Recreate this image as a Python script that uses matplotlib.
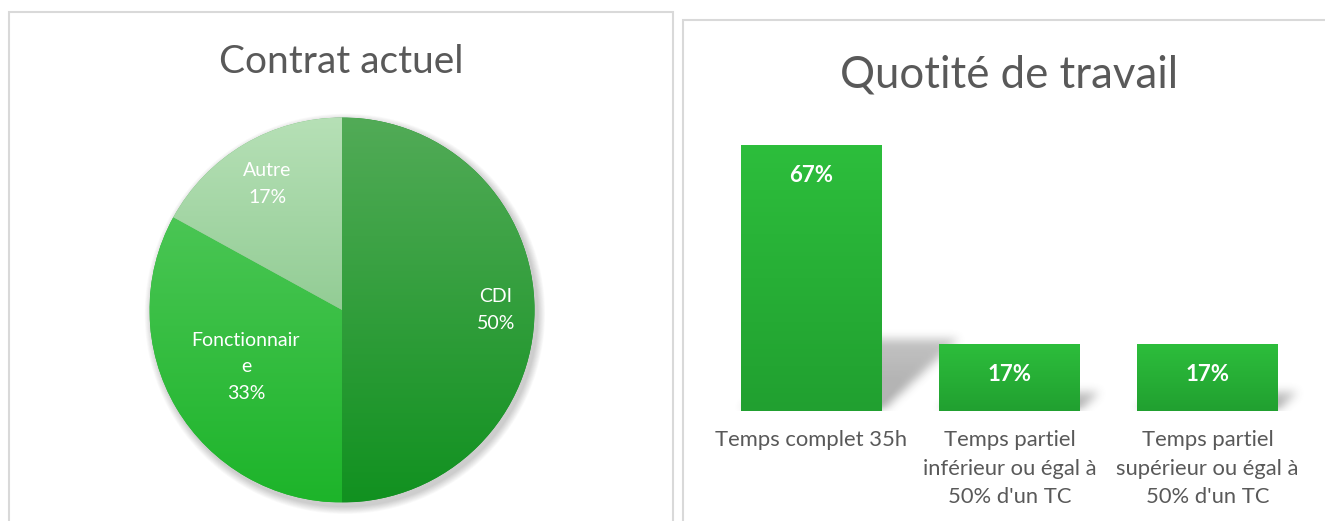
import numpy as np
import matplotlib
matplotlib.use('Agg')
import matplotlib.pyplot as plt
from matplotlib.colors import LinearSegmentedColormap
from matplotlib.patches import Rectangle, Circle

# --- données ---
contrat_labels = ['CDI', 'Fonctionnair\ne', 'Autre']
contrat_pct = [50, 33, 17]

quotite_labels = ['Temps complet 35h',
                  'Temps partiel\ninférieur ou égal à\n50% d\'un TC',
                  'Temps partiel\nsupérieur ou égal à\n50% d\'un TC']
quotite_pct = [67, 17, 17]

# dégradés (haut -> bas)
pie_grad = [('#52ab57', '#119120'), ('#5acc63', '#1db42a'), ('#b6e0b6', '#70b974')]
bar_grad = ('#2dbe3c', '#21a030')

plt.rcParams['font.family'] = ['Lato', 'DejaVu Sans']
GRIS = '#595959'
W, H = 1325, 521

fig = plt.figure(figsize=(W / 100, H / 100), dpi=100)


def box(x0, y0, x1, y1):
    # pixels (origine en haut à gauche) -> rect figure
    return [x0 / W, 1 - y1 / H, (x1 - x0) / W, (y1 - y0) / H]


def vgrad(c_top, c_bot):
    cmap = LinearSegmentedColormap.from_list('g', [c_bot, c_top])
    return np.linspace(0, 1, 256).reshape(-1, 1), cmap


def blur(a, n=9, passes=3):
    k = np.ones(n) / n
    for _ in range(passes):
        a = np.apply_along_axis(lambda v: np.convolve(v, k, mode='same'), 0, a)
        a = np.apply_along_axis(lambda v: np.convolve(v, k, mode='same'), 1, a)
    return a


# cadres des deux graphiques
for x0, y0, x1 in [(9, 12, 673), (683, 20, 1345)]:
    fig.add_artist(Rectangle((x0 / W, -0.05), (x1 - x0) / W, 1 - y0 / H + 0.05,
                             transform=fig.transFigure, fill=False,
                             ec='#d9d9d9', lw=1.5))

fig.text(341 / W, 1 - 73 / H, 'Contrat actuel', ha='center', va='baseline',
         fontsize=28, color=GRIS)
fig.text(1009 / W, 1 - 87 / H, 'Quotité de travail', ha='center', va='baseline',
         fontsize=31.5, color=GRIS)

# ---------------- camembert ----------------
cx, cy, r = 342, 310, 192.5
ax1 = fig.add_axes(box(cx - r, cy - r, cx + r, cy + r))

# ombre douce
for k in range(10):
    ax1.add_patch(Circle((0.015, -0.02), 1.0 + 0.004 * (10 - k), color='#000000',
                         alpha=0.018, lw=0, zorder=0, clip_on=False))

wedges, _ = ax1.pie(contrat_pct, startangle=90, counterclock=False, radius=1,
                    colors=[g[1] for g in pie_grad],
                    wedgeprops=dict(linewidth=0))
for w, (ct, cb) in zip(wedges, pie_grad):
    z, cmap = vgrad(ct, cb)
    im = ax1.imshow(z, extent=[-1, 1, -1, 1], origin='lower', cmap=cmap,
                    aspect='auto', zorder=1)
    im.set_clip_path(w)

label_dist = [0.80, 0.58, 0.76]
for w, lab, v, d in zip(wedges, contrat_labels, contrat_pct, label_dist):
    ang = np.deg2rad((w.theta1 + w.theta2) / 2)
    ax1.text(d * np.cos(ang), d * np.sin(ang), f'{lab}\n{v}%', ha='center',
             va='center', color='white', fontsize=14, linespacing=1.7, zorder=3)

ax1.set_xlim(-1, 1)
ax1.set_ylim(-1, 1)
ax1.set_aspect('equal')
ax1.axis('off')

# ---------------- barres ----------------
step = 198.0          # pixels entre deux barres
x_c0 = 811.5          # centre de la première barre
ax_l, ax_r = 700, 1320
y0_px, top_px = 411, 130
ypx = 266 / 67        # pixels par %
ytop = (y0_px - top_px) / ypx
xlim = ((ax_l - x_c0) / step, (ax_r - x_c0) / step)
ax2 = fig.add_axes(box(ax_l, top_px, ax_r, y0_px))

x = np.arange(len(quotite_pct))
bw = 141 / step
bars = ax2.bar(x, quotite_pct, width=bw, color=bar_grad[1], lw=0, zorder=2)

# ombres portées (floutées)
gx = np.linspace(xlim[0], xlim[1], ax_r - ax_l)
gy = np.linspace(0, ytop, y0_px - top_px)
XX, YY = np.meshgrid(gx, gy)
mask = np.zeros_like(XX)
for rect, v in zip(bars, quotite_pct):
    L, R = rect.get_x(), rect.get_x() + rect.get_width()
    s = 0.27 * v
    dx = 1.07 * s * ypx / step
    off = dx * YY / s
    inside = (YY <= s) & (XX >= L + off) & (XX <= R + off)
    mask[inside] = np.maximum(mask[inside], 1 - 0.3 * YY[inside] / s)
mask = blur(mask)
rgba = np.zeros(mask.shape + (4,))
rgba[..., :3] = 0.3
rgba[..., 3] = np.clip(mask * 1.15, 0, 1) * 0.42
ax2.imshow(rgba, extent=[xlim[0], xlim[1], 0, ytop], origin='lower',
           aspect='auto', zorder=1, interpolation='bilinear')

z, cmap = vgrad(*bar_grad)
for rect, v in zip(bars, quotite_pct):
    im = ax2.imshow(z, extent=[rect.get_x(), rect.get_x() + rect.get_width(), 0, v],
                    origin='lower', cmap=cmap, aspect='auto', zorder=2.5)
    im.set_clip_path(rect)
    ax2.annotate(f'{v}%', (rect.get_x() + rect.get_width() / 2, v),
                 xytext=(0, -27), textcoords='offset points', ha='center',
                 va='baseline', color='white', fontsize=16, fontweight='bold',
                 zorder=3)

ax2.set_xlim(*xlim)
ax2.set_ylim(0, ytop)
ax2.set_xticks(x, quotite_labels, fontsize=15.8, color=GRIS, linespacing=1.52)
ax2.tick_params(axis='x', length=0, pad=14)
ax2.set_yticks([])
for sp in ax2.spines.values():
    sp.set_visible(False)
ax2.patch.set_alpha(0)

fig.savefig('out.png', dpi=100, facecolor='white')
